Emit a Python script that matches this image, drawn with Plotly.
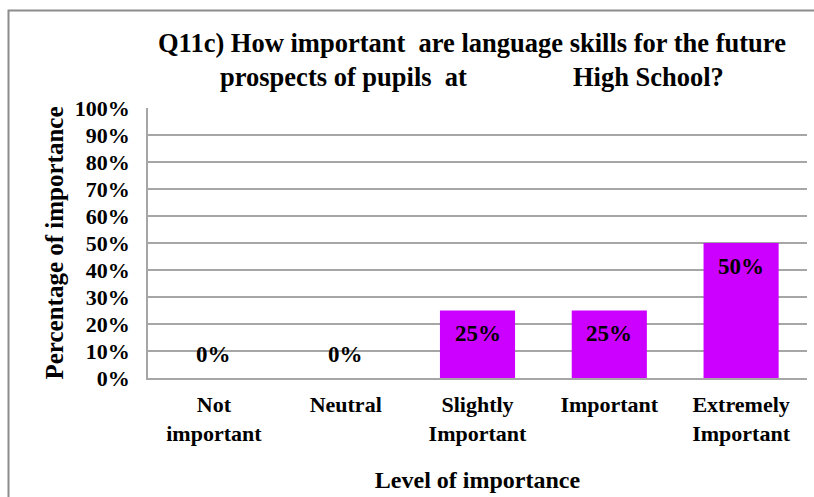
import plotly.graph_objects as go

categories = ["Not<br>important", "Neutral", "Slightly<br>Important", "Important", "Extremely<br>Important"]
values = [0.0, 0.0, 0.25, 0.25, 0.50]
value_labels = ["0%", "0%", "25%", "25%", "50%"]
y_ticks = [i / 10 for i in range(11)]
y_tick_labels = [f"{i*10}%" for i in range(11)]

FONT = "Liberation Serif, Times New Roman, serif"
W, H = 814, 497
L, R, T, B = 148, 7, 108, 119

fig = go.Figure()
fig.add_trace(go.Bar(
    x=[f"<b>{c}</b>" for c in categories], y=values, width=0.57,
    marker=dict(color="#CC00FF", line=dict(width=0)),
    hoverinfo="skip",
))

for cat, v, lab in zip(categories, values, value_labels):
    fig.add_annotation(
        x=f"<b>{cat}</b>", y=v, xref="x", yref="y", text=f"<b>{lab}</b>", showarrow=False,
        yanchor="middle", yshift=(-23 if v > 0 else 24),
        font=dict(family=FONT, size=23, color="black"),
    )

pw = W - L - R
ph = H - T - B
fig.add_shape(
    type="rect", xref="paper", yref="paper",
    x0=(8.5 - L) / pw, x1=1 + 40 / pw,
    y0=-(H - (T + ph) + 40) / ph, y1=1 + (T - 10.5) / ph,
    line=dict(color="#8c8c8c", width=2), fillcolor="rgba(0,0,0,0)", layer="below",
)

gap = "&nbsp;" * 14
fig.add_annotation(
    text=f"<b>Q11c) How important  are language skills for the future<br>prospects of pupils  at {gap} High School?</b>",
    xref="paper", yref="paper", x=(472 - L) / pw, y=1 + (T - 60) / ph,
    xanchor="center", yanchor="middle", showarrow=False, align="center",
    font=dict(family=FONT, size=26.5, color="black"),
)

fig.update_layout(
    width=W, height=H,
    margin=dict(l=L, r=R, t=T, b=B),
    paper_bgcolor="white", plot_bgcolor="white",
    showlegend=False,
    font=dict(family=FONT, color="black"),
)

fig.update_yaxes(
    range=[0, 1], tickvals=y_ticks, ticktext=[f"<b>{t}</b>" for t in y_tick_labels],
    showgrid=True, gridcolor="#a6a6a6", gridwidth=1.5,
    showline=True, linecolor="#a6a6a6", linewidth=1.5,
    zeroline=False, ticks="", ticklabelstandoff=12,
    tickfont=dict(family=FONT, size=22, color="black"),
    title=dict(text="<b>Percentage of importance</b>", standoff=4,
               font=dict(family=FONT, size=25, color="black")),
    automargin=False,
)
fig.update_xaxes(
    showline=True, linecolor="#a6a6a6", linewidth=1.5,
    ticks="", ticklabelstandoff=6,
    tickfont=dict(family=FONT, size=22, color="black"),
    title=dict(text="<b>Level of importance</b>", standoff=26,
               font=dict(family=FONT, size=24, color="black")),
    automargin=False,
)

fig.write_html("out.html", config={"displayModeBar": False},
               post_script="document.body.style.margin='0';")
